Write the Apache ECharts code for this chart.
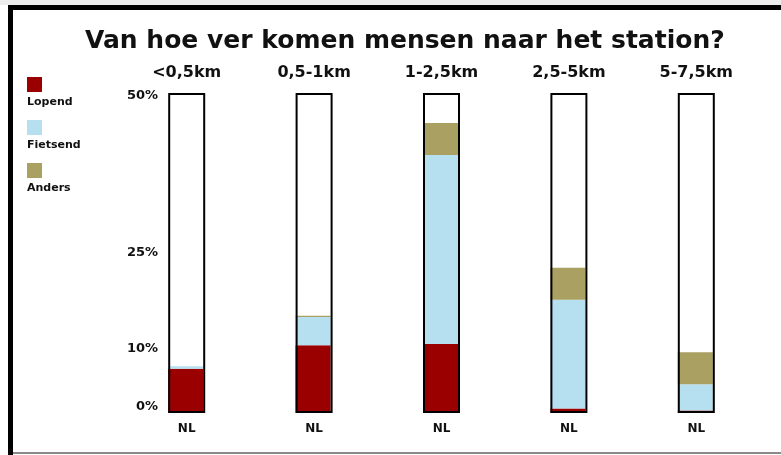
<!DOCTYPE html>
<html>
<head>
<meta charset="utf-8">
<script src="https://cdn.jsdelivr.net/npm/echarts@6/dist/echarts.min.js"></script>
<style>
	html, body { margin: 0; padding: 0; background: #fff; }
	#chart { width: 781px; height: 455px; }
</style>
</head>
<body>
<div id="chart"></div>
<script>
// Data (percent of travellers per distance band)
const distances = ["<0,5km", "0,5-1km", "1-2,5km", "2,5-5km", "5-7,5km"];
const countryLabels = ["NL", "NL", "NL", "NL", "NL"];
const lopend = [6.9, 10.6, 10.8, 0.7, 0.4];
const fietsend = [0.4, 4.4, 29.5, 17.0, 4.1];
const anders = [0, 0.2, 5.0, 5.0, 5.0];
const yMax = 50;
const yTicks = [0, 10, 25, 50];

const fontFamily = "DejaVu Sans";
const seriesDefs = [
	{ name: "Lopend", data: lopend, color: "#9b0000" },
	{ name: "Fietsend", data: fietsend, color: "#b6dff0" },
	{ name: "Anders", data: anders, color: "#a9a062" },
];

function legendGraphics() {
	const out = [];
	seriesDefs.forEach((s, i) => {
		const top = 77 + i * 43;
		out.push({
			type: "rect",
			left: 27,
			top: top,
			shape: { width: 15, height: 15 },
			style: { fill: s.color },
		});
		out.push({
			type: "text",
			left: 27,
			top: top + 20,
			style: {
				text: s.name,
				fill: "#111",
				font: "bold 11px " + fontFamily,
			},
		});
	});
	return out;
}

function createChart(inputID) {
	const chartDom = document.getElementById(inputID);
	if (chartDom == null) return;
	const myChart = echarts.init(chartDom, null, { renderer: "canvas" });
	const labelFont = { fontFamily: fontFamily, fontWeight: "bold", fontSize: 13, color: "#111" };
	const option = {
		animation: false,
		backgroundColor: "#fff",
		title: {
			text: "Van hoe ver komen mensen naar het station?",
			left: 80,
			top: 24,
			textStyle: {
				fontFamily: fontFamily,
				fontWeight: "bold",
				fontSize: 25,
				color: "#111",
			},
		},
		grid: { left: 123, right: 21, top: 93, bottom: 42 },
		xAxis: [
			{
				type: "category",
				data: countryLabels,
				position: "bottom",
				axisLine: { show: false },
				axisTick: { show: false },
				axisLabel: {
					margin: 10,
					fontFamily: fontFamily,
					fontWeight: "bold",
					fontSize: 12,
					color: "#111",
				},
			},
			{
				type: "category",
				data: distances,
				position: "top",
				axisLine: { show: false },
				axisTick: { show: false },
				axisLabel: {
					margin: 12,
					fontFamily: fontFamily,
					fontWeight: "bold",
					fontSize: 16,
					color: "#111",
				},
			},
		],
		yAxis: {
			type: "value",
			min: 0,
			max: yMax,
			interval: 5,
			splitLine: { show: false },
			axisLine: { show: false },
			axisTick: { show: false },
			axisLabel: Object.assign({}, labelFont, {
				margin: -35,
				formatter: (v) => {
					if (!yTicks.includes(v)) return "";
					if (v === 0) return "{z|0%}";
					if (v === yMax) return "{t|" + v + "%}";
					return v + "%";
				},
				rich: {
					z: Object.assign({}, labelFont, { padding: [0, 0, 12, 0] }),
					t: Object.assign({}, labelFont, { padding: [6, 0, 0, 0] }),
				},
			}),
		},
		graphic: [
			{ type: "rect", left: 0, top: 0, shape: { width: 781, height: 5 }, style: { fill: "#ededed" } },
			{ type: "rect", left: 8, top: 5, shape: { width: 773, height: 5 }, style: { fill: "#000" } },
			{ type: "rect", left: 8, top: 5, shape: { width: 5, height: 450 }, style: { fill: "#000" } },
			{ type: "rect", left: 13, top: 452, shape: { width: 768, height: 2 }, style: { fill: "#8a8a8a" } },
		].concat(legendGraphics()),
		series: seriesDefs
			.map((s) => ({
				name: s.name,
				type: "bar",
				stack: "mode",
				barWidth: 35,
				data: s.data,
				itemStyle: { color: s.color },
				showBackground: true,
				backgroundStyle: { color: "#fff" },
			}))
			.concat([
				{
					name: "outline",
					type: "bar",
					barWidth: 37,
					barGap: "-100%",
					silent: true,
					z: 10,
					data: distances.map(() => yMax),
					itemStyle: { color: "rgba(0,0,0,0)", borderColor: "#000", borderWidth: 2 },
				},
			]),
	};
	myChart.setOption(option);
	return myChart;
}

createChart("chart");
</script>
</body>
</html>
